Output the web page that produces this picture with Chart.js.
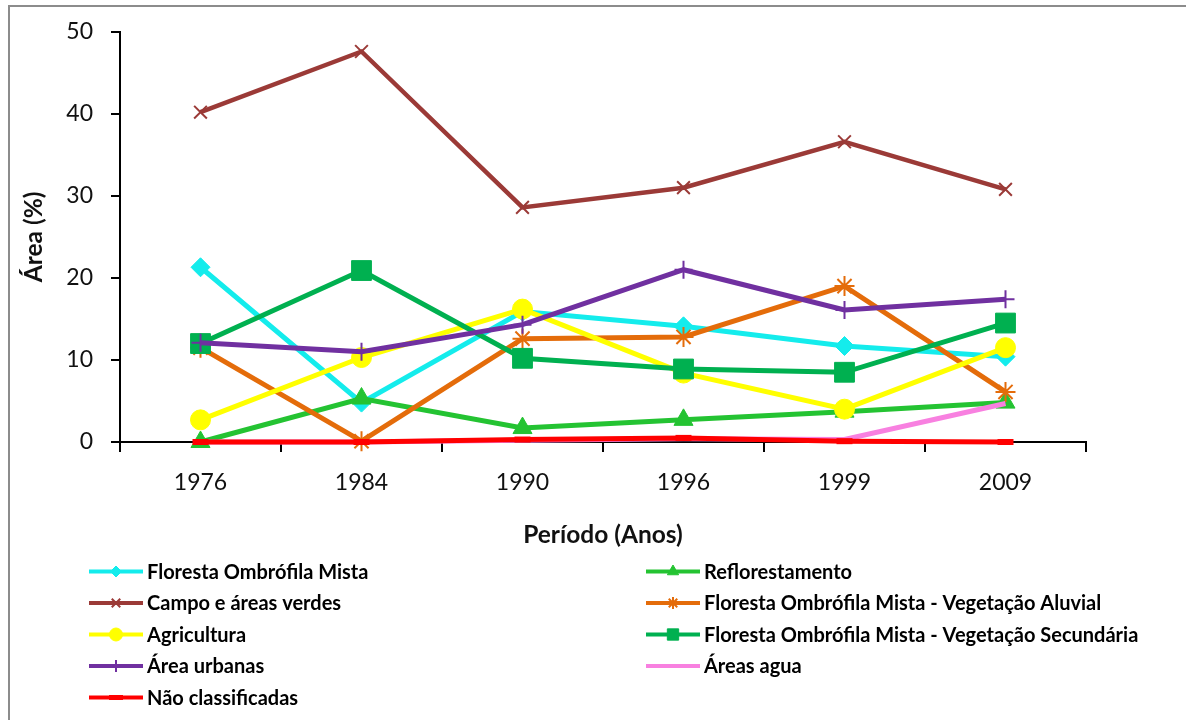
<!DOCTYPE html>
<html>
<head>
<meta charset="utf-8">
<script src="https://cdn.jsdelivr.net/npm/chart.js@4.4.1/dist/chart.umd.min.js"></script>
<style>
  html, body { margin: 0; padding: 0; background: #fff; }
  #wrap { position: relative; width: 1186px; height: 720px; overflow: hidden; }
  #frame { position: absolute; left: 8px; top: 5px; width: 1300px; height: 800px;
           border-top: 2px solid #8c8c8c; border-left: 2px solid #8c8c8c; }
  canvas { position: absolute; left: 0; top: 0; }
</style>
</head>
<body>
<div id="wrap">
  <div id="frame"></div>
  <canvas id="graph" width="1186" height="720"></canvas>
</div>
<script>
// Áreas por classe de uso (%), leitura do gráfico
const anos = ['1976', '1984', '1990', '1996', '1999', '2009'];

const florestaMista   = [21.3, 4.8, 15.9, 14.1, 11.7, 10.4];
const reflorestamento = [0.0, 5.3, 1.7, 2.7, 3.7, 4.8];
const campo           = [40.2, 47.6, 28.6, 31.0, 36.6, 30.8];
const aluvial         = [11.5, 0.1, 12.6, 12.8, 19.0, 6.1];
const agricultura     = [2.7, 10.3, 16.2, 8.4, 4.0, 11.5];
const secundaria      = [12.0, 20.9, 10.2, 8.9, 8.5, 14.5];
const urbanas         = [12.1, 11.0, 14.3, 21.0, 16.1, 17.4];
const agua            = [0.0, 0.0, 0.2, 0.4, 0.3, 4.7];
const naoClass        = [0.0, 0.0, 0.3, 0.5, 0.1, 0.0];

const yTicks = [0, 10, 20, 30, 40, 50];

const FONTE = 'Lato';

function serie(label, data, cor, estilo, raio, borda, raioLeg, bordaLeg, larg) {
    return {
        label: label,
        data: data,
        borderColor: cor,
        backgroundColor: cor,
        borderWidth: larg || 5,
        pointStyle: estilo,
        pointRadius: raio,
        pointHoverRadius: raio,
        pointBorderWidth: borda,
        pointBackgroundColor: cor,
        pointBorderColor: cor,
        tension: 0,
        clip: false,
        legRadius: raioLeg,
        legBorder: bordaLeg
    };
}

const series = [
    serie('Floresta Ombrófila Mista', florestaMista, '#14ECEC', 'rectRot', 9.5, 1, 5.5, 1),
    serie('Reflorestamento', reflorestamento, '#24C332', 'triangle', 11, 1, 6.5, 1),
    serie('Campo e áreas verdes', campo, '#9B3A37', 'crossRot', 9, 2, 6, 2, 4.5),
    serie('Floresta Ombrófila Mista - Vegetação Aluvial', aluvial, '#E46C0A', 'star', 10, 2, 6, 2),
    serie('Agricultura', agricultura, '#FFFF00', 'circle', 10, 1, 6.5, 1),
    serie('Floresta Ombrófila Mista - Vegetação Secundária', secundaria, '#00B050', 'rect', 14, 1, 8, 1),
    serie('Área urbanas', urbanas, '#7030A0', 'cross', 9, 2, 6, 2),
    serie('Áreas agua', agua, '#F880E0', false, 0, 0, 0, 0),
    serie('Não classificadas', naoClass, '#FF0000', 'line', 8, 6, 7, 5)
];
// as últimas séries ficam por cima, como no original
series.forEach((s, i) => { s.order = series.length - i; });

// legenda em duas colunas, desenhada no canvas
const legendaDuasColunas = {
    id: 'legendaDuasColunas',
    afterDraw(chart) {
        const ctx = chart.ctx;
        ctx.save();
        chart.data.datasets.forEach((ds, i) => {
            const col = i % 2;
            const lin = Math.floor(i / 2);
            const x0 = col ? 646 : 89;
            const y = 571.5 + lin * 31.5;
            ctx.strokeStyle = ds.borderColor;
            ctx.lineWidth = 4;
            ctx.beginPath();
            ctx.moveTo(x0, y);
            ctx.lineTo(x0 + 54, y);
            ctx.stroke();
            if (ds.pointStyle && ds.legRadius) {
                ctx.fillStyle = ds.borderColor;
                ctx.lineWidth = ds.legBorder;
                Chart.helpers.drawPoint(ctx, {
                    pointStyle: ds.pointStyle,
                    radius: ds.legRadius,
                    borderWidth: ds.legBorder,
                    rotation: 0
                }, x0 + 27, y);
            }
            ctx.fillStyle = '#000';
            ctx.font = 'bold 20px ' + FONTE;
            ctx.textBaseline = 'middle';
            ctx.textAlign = 'left';
            ctx.fillText(ds.label, x0 + 58, y + 1);
        });
        ctx.restore();
    }
};

function desenhar() {
    const a = document.getElementById('graph');
    new Chart(a, {
        type: 'line',
        data: { labels: anos, datasets: series },
        plugins: [legendaDuasColunas],
        options: {
            responsive: false,
            animation: false,
            events: [],
            layout: { padding: { left: 0, top: 30, right: 100, bottom: 170 } },
            plugins: { legend: { display: false }, tooltip: { enabled: false } },
            scales: {
                x: {
                    offset: true,
                    afterFit: (s) => { s.height = 108; },
                    grid: { offset: true, drawOnChartArea: false, drawTicks: true, tickLength: 10, color: '#000', lineWidth: 2 },
                    border: { display: true, color: '#000', width: 2 },
                    ticks: { color: '#111', padding: 17, font: { family: FONTE, size: 23 } },
                    title: { display: true, text: 'Período (Anos)', color: '#111', padding: { top: 0, bottom: 0 },
                             font: { family: FONTE, size: 24.5, weight: 'bold' } }
                },
                y: {
                    min: 0,
                    max: 50,
                    afterFit: (s) => { s.width = 120; },
                    afterBuildTicks: (s) => { s.ticks = yTicks.map(v => ({ value: v })); },
                    grid: { drawOnChartArea: false, drawTicks: true, tickLength: 9, color: '#000', lineWidth: 2 },
                    border: { display: true, color: '#000', width: 2 },
                    ticks: { color: '#111', padding: 18, font: { family: FONTE, size: 23 } },
                    title: { display: true, text: 'Área (%)', color: '#111', padding: { top: 19, bottom: 0 },
                             font: { family: FONTE, size: 24.5, weight: 'bold' } }
                }
            }
        }
    });
}

Promise.all([
    document.fonts.load('23px ' + FONTE),
    document.fonts.load('bold 24px ' + FONTE),
    document.fonts.load('bold 20px ' + FONTE)
]).then(desenhar, desenhar);
</script>
</body>
</html>
